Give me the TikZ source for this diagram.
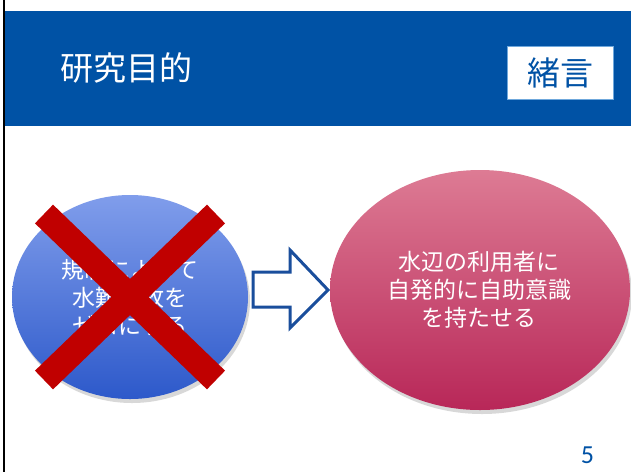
\documentclass[tikz,border=0pt]{standalone}
\usepackage{fontspec}
\newfontfamily\jp{Noto Sans CJK JP}
\newfontfamily\numfont{Carlito}
\usetikzlibrary{shapes.geometric,shadows}
\definecolor{barblue}{HTML}{0052A5}
\definecolor{boxedge}{HTML}{6FA8DC}
\definecolor{xred}{HTML}{C00000}
\definecolor{arrowblue}{HTML}{1A4E9C}
\definecolor{ltop}{HTML}{809DEB}
\definecolor{lbot}{HTML}{2D59CA}
\definecolor{rtop}{HTML}{DD7B94}
\definecolor{rbot}{HTML}{B82758}
\tikzset{
  bubble/.style={ellipse, inner sep=0pt, text=white, align=center,
    font=\jp\fontsize{23}{28}\selectfont,
    drop shadow={opacity=0.3, shadow xshift=2pt, shadow yshift=-4pt}},
  crossbar/.style={xred, line width=26pt, line cap=butt},
  blockarrow/.style={draw=arrowblue, line width=3pt, fill=white, line join=miter}
}
\begin{document}
\begin{tikzpicture}[x=1pt,y=-1pt]
\useasboundingbox (0,0) rectangle (631,472);
\fill[white] (0,0) rectangle (631,472);
\node[fill=barblue, minimum width=627pt, minimum height=115pt, inner sep=0pt, anchor=north west] (bar) at (4,11) {};
\draw[line width=1.8pt] (4,0) -- (4,472);
\node[anchor=west, text=white, font=\jp\fontsize{33}{33}\selectfont, inner sep=0pt] (title) at (60,68) {研究目的};
\node[fill=white, draw=boxedge, line width=0.8pt, minimum width=106pt, minimum height=53pt, inner sep=0pt, text=barblue, font=\jp\fontsize{33}{33}\selectfont] (tag) at (560,72.5) {緒言};
% left ellipse
\node[bubble, top color=ltop, bottom color=lbot, minimum width=236pt, minimum height=204pt] (left) at (130,297) {規制によって\\水難事故を\\ゼロにする};
\coordinate (x1) at (44,214);
\coordinate (x2) at (216,380);
\coordinate (x3) at (216,214);
\coordinate (x4) at (44,380);
\draw[crossbar] (x1) -- (x2);
\draw[crossbar] (x3) -- (x4);
% right ellipse
\node[bubble, top color=rtop, bottom color=rbot, minimum width=300pt, minimum height=240pt] (right) at (480,290) {};
\node[text=white, align=center, font=\jp\fontsize{23}{28}\selectfont, inner sep=0pt] (rtext) at (479,290) {水辺の利用者に\\自発的に自助意識\\を持たせる};
% block arrow
\draw[blockarrow] (253,272) -- (290,272) -- (290,250) -- (328,290) -- (290,328) -- (290,307) -- (253,307) -- cycle;
\node[text=barblue, font=\numfont\fontsize{26}{26}\selectfont, inner sep=0pt, anchor=base] (page) at (587.5,463) {5};
\end{tikzpicture}
\end{document}
